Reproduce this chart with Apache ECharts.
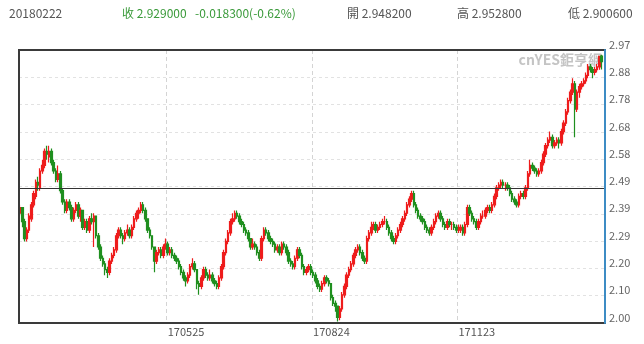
<!DOCTYPE html>
<html><head><meta charset="utf-8">
<script src="https://cdn.jsdelivr.net/npm/echarts@6/dist/echarts.min.js"></script>
<style>html,body{margin:0;padding:0;background:#fff}#c{width:644px;height:344px}</style>
</head><body><div id="c"></div>
<script>
// ---- data ----
const startDate = '2017-02-22';
const endDate = '2018-02-22';
const xTickLabels = ['170525', '170824', '171123'];
const yMin = 2.00, yMax = 2.97, yStep = 0.097;
const yTickLabels = ['2.00','2.10','2.20','2.29','2.39','2.49','2.58','2.68','2.78','2.88','2.97'];
const refLine = 2.485;
const headerDate = '20180222';
const headerClose = '收 2.929000';
const headerChange = '-0.018300(-0.62%)';
const headerOpen = '開 2.948200';
const headerHigh = '高 2.952800';
const headerLow = '低 2.900600';
const watermark = 'cnYES鉅亨網';

const opens = [
2.39,2.41,2.36,2.30,2.33,2.37,2.42,2.45,2.50,2.48,
2.54,2.56,2.61,2.59,2.61,2.57,2.54,2.51,2.53,2.47,
2.43,2.40,2.43,2.41,2.37,2.40,2.42,2.38,2.40,2.34,
2.36,2.33,2.37,2.36,2.38,2.31,2.27,2.23,2.21,2.19,
2.18,2.22,2.24,2.26,2.31,2.33,2.31,2.30,2.32,2.33,
2.31,2.34,2.37,2.39,2.40,2.42,2.40,2.37,2.33,2.31,
2.27,2.22,2.25,2.26,2.24,2.27,2.28,2.25,2.26,2.24,
2.23,2.22,2.20,2.18,2.16,2.15,2.17,2.20,2.21,2.19,
2.14,2.13,2.16,2.19,2.17,2.16,2.17,2.15,2.14,2.13,
2.16,2.20,2.25,2.29,2.32,2.36,2.37,2.39,2.38,2.36,
2.35,2.33,2.32,2.30,2.27,2.28,2.27,2.25,2.23,2.30,
2.33,2.32,2.30,2.29,2.28,2.26,2.27,2.25,2.28,2.27,
2.25,2.22,2.21,2.20,2.23,2.26,2.24,2.20,2.18,2.19,
2.20,2.18,2.17,2.15,2.13,2.12,2.14,2.16,2.15,2.14,
2.09,2.07,2.06,2.02,2.05,2.10,2.13,2.17,2.19,2.21,
2.24,2.26,2.27,2.25,2.23,2.22,2.30,2.32,2.34,2.35,
2.33,2.34,2.35,2.36,2.36,2.34,2.32,2.30,2.29,2.31,
2.33,2.35,2.37,2.39,2.42,2.44,2.46,2.42,2.40,2.38,
2.37,2.36,2.34,2.33,2.32,2.34,2.36,2.38,2.39,2.37,
2.35,2.34,2.36,2.35,2.35,2.34,2.33,2.33,2.34,2.32,
2.35,2.41,2.39,2.37,2.36,2.34,2.36,2.38,2.38,2.40,
2.41,2.40,2.42,2.45,2.48,2.49,2.50,2.49,2.49,2.48,
2.46,2.44,2.43,2.42,2.45,2.46,2.45,2.48,2.53,2.56,
2.55,2.54,2.53,2.54,2.57,2.60,2.63,2.65,2.66,2.63,
2.64,2.65,2.64,2.68,2.71,2.75,2.79,2.82,2.85,2.76,
2.82,2.84,2.85,2.86,2.88,2.91,2.90,2.89,2.90,2.91,
2.9482];
const closes = [
2.41,2.36,2.30,2.33,2.38,2.42,2.46,2.50,2.49,2.54,
2.56,2.61,2.60,2.61,2.57,2.54,2.51,2.53,2.47,2.43,
2.40,2.43,2.41,2.37,2.40,2.42,2.38,2.40,2.34,2.36,
2.33,2.37,2.36,2.38,2.31,2.27,2.23,2.21,2.19,2.18,
2.22,2.24,2.26,2.31,2.33,2.31,2.30,2.32,2.33,2.31,
2.34,2.37,2.39,2.40,2.42,2.40,2.37,2.33,2.31,2.27,
2.22,2.25,2.26,2.24,2.27,2.28,2.25,2.26,2.24,2.23,
2.22,2.20,2.18,2.16,2.15,2.17,2.20,2.21,2.19,2.14,
2.13,2.16,2.19,2.17,2.16,2.17,2.15,2.14,2.13,2.16,
2.20,2.25,2.29,2.32,2.36,2.37,2.39,2.38,2.36,2.35,
2.33,2.32,2.30,2.27,2.28,2.27,2.25,2.23,2.30,2.33,
2.32,2.30,2.29,2.28,2.26,2.27,2.25,2.28,2.27,2.25,
2.22,2.21,2.20,2.23,2.26,2.24,2.20,2.18,2.19,2.20,
2.18,2.17,2.15,2.13,2.12,2.14,2.16,2.15,2.14,2.09,
2.07,2.06,2.02,2.05,2.10,2.13,2.17,2.19,2.21,2.24,
2.26,2.27,2.25,2.23,2.22,2.30,2.32,2.34,2.35,2.33,
2.34,2.35,2.36,2.36,2.34,2.32,2.30,2.29,2.31,2.33,
2.35,2.37,2.39,2.42,2.44,2.46,2.42,2.40,2.38,2.37,
2.36,2.34,2.33,2.32,2.34,2.36,2.38,2.39,2.37,2.35,
2.34,2.36,2.35,2.35,2.34,2.33,2.33,2.34,2.32,2.35,
2.41,2.39,2.37,2.36,2.34,2.36,2.38,2.38,2.40,2.41,
2.40,2.42,2.45,2.48,2.49,2.50,2.49,2.49,2.48,2.46,
2.44,2.43,2.42,2.45,2.46,2.45,2.48,2.53,2.56,2.55,
2.54,2.53,2.54,2.57,2.60,2.63,2.65,2.66,2.63,2.64,
2.65,2.64,2.68,2.71,2.75,2.79,2.82,2.85,2.76,2.82,
2.84,2.85,2.86,2.88,2.91,2.90,2.89,2.90,2.91,2.9473,
2.929];
const lows = [
2.38,2.34,2.29,2.29,2.32,2.36,2.41,2.44,2.47,2.47,
2.53,2.55,2.58,2.57,2.56,2.53,2.50,2.50,2.46,2.42,
2.39,2.39,2.40,2.36,2.36,2.39,2.37,2.36,2.33,2.33,
2.32,2.32,2.35,2.27,2.30,2.26,2.22,2.20,2.17,2.16,
2.17,2.21,2.23,2.25,2.30,2.30,2.28,2.29,2.31,2.30,
2.30,2.33,2.36,2.37,2.39,2.39,2.36,2.32,2.30,2.26,
2.18,2.21,2.24,2.23,2.23,2.26,2.24,2.24,2.23,2.22,
2.21,2.19,2.17,2.15,2.13,2.14,2.16,2.19,2.18,2.12,
2.10,2.12,2.15,2.16,2.15,2.15,2.14,2.13,2.12,2.12,
2.15,2.19,2.24,2.28,2.31,2.35,2.36,2.37,2.35,2.34,
2.32,2.31,2.29,2.26,2.26,2.26,2.24,2.22,2.22,2.29,
2.31,2.29,2.28,2.27,2.25,2.25,2.24,2.24,2.26,2.24,
2.21,2.20,2.19,2.19,2.22,2.23,2.19,2.17,2.17,2.18,
2.17,2.16,2.14,2.12,2.11,2.11,2.13,2.14,2.13,2.08,
2.06,2.04,2.005,2.01,2.04,2.09,2.12,2.16,2.18,2.20,
2.23,2.25,2.24,2.22,2.21,2.21,2.29,2.31,2.33,2.32,
2.32,2.33,2.34,2.35,2.33,2.31,2.29,2.28,2.28,2.30,
2.32,2.34,2.36,2.38,2.41,2.43,2.41,2.39,2.37,2.36,
2.35,2.33,2.32,2.31,2.31,2.33,2.35,2.37,2.36,2.34,
2.33,2.33,2.34,2.33,2.33,2.32,2.32,2.32,2.31,2.31,
2.34,2.38,2.36,2.35,2.33,2.33,2.35,2.37,2.37,2.39,
2.39,2.39,2.41,2.44,2.47,2.48,2.48,2.47,2.47,2.45,
2.43,2.42,2.41,2.41,2.44,2.44,2.44,2.47,2.52,2.54,
2.53,2.52,2.52,2.53,2.56,2.59,2.62,2.64,2.62,2.62,
2.63,2.62,2.63,2.67,2.70,2.74,2.78,2.81,2.66,2.75,
2.80,2.83,2.84,2.85,2.87,2.89,2.87,2.88,2.89,2.90,
2.9006];
const highs = [
2.42,2.41,2.37,2.34,2.39,2.43,2.47,2.51,2.52,2.55,
2.58,2.62,2.63,2.63,2.62,2.58,2.55,2.56,2.54,2.48,
2.44,2.44,2.44,2.42,2.41,2.43,2.43,2.41,2.40,2.37,
2.37,2.38,2.39,2.39,2.38,2.32,2.28,2.24,2.22,2.20,
2.23,2.25,2.27,2.32,2.34,2.34,2.32,2.33,2.35,2.34,
2.35,2.38,2.40,2.41,2.43,2.43,2.41,2.37,2.34,2.31,
2.27,2.26,2.27,2.27,2.28,2.30,2.29,2.27,2.27,2.25,
2.24,2.23,2.21,2.19,2.17,2.18,2.21,2.23,2.22,2.19,
2.15,2.17,2.20,2.20,2.18,2.19,2.18,2.16,2.15,2.17,
2.21,2.26,2.30,2.33,2.37,2.39,2.40,2.40,2.39,2.37,
2.36,2.34,2.33,2.30,2.30,2.29,2.28,2.26,2.31,2.34,
2.34,2.33,2.31,2.30,2.29,2.28,2.28,2.29,2.29,2.28,
2.26,2.23,2.22,2.24,2.27,2.27,2.25,2.21,2.20,2.21,
2.21,2.19,2.18,2.16,2.14,2.15,2.17,2.17,2.16,2.14,
2.10,2.08,2.06,2.06,2.11,2.14,2.18,2.20,2.22,2.25,
2.27,2.28,2.28,2.26,2.24,2.31,2.33,2.36,2.36,2.36,
2.35,2.36,2.37,2.38,2.37,2.35,2.33,2.31,2.32,2.34,
2.36,2.38,2.40,2.43,2.45,2.47,2.47,2.43,2.41,2.39,
2.38,2.37,2.35,2.34,2.35,2.37,2.39,2.40,2.40,2.38,
2.36,2.37,2.37,2.36,2.36,2.35,2.35,2.35,2.35,2.36,
2.42,2.42,2.40,2.38,2.37,2.37,2.39,2.40,2.41,2.42,
2.42,2.43,2.46,2.49,2.50,2.51,2.51,2.50,2.50,2.49,
2.47,2.45,2.44,2.46,2.47,2.47,2.49,2.54,2.58,2.57,
2.56,2.55,2.55,2.58,2.61,2.64,2.66,2.68,2.67,2.65,
2.66,2.66,2.69,2.72,2.76,2.80,2.83,2.87,2.86,2.83,
2.85,2.86,2.87,2.89,2.92,2.92,2.91,2.91,2.92,2.95,
2.9528];

// ---- categories: weekday trading dates as YYMMDD ----
function tradingDays(s, e) {
  const out = [];
  const d = new Date(s + 'T00:00:00Z');
  const end = new Date(e + 'T00:00:00Z');
  while (d <= end) {
    const w = d.getUTCDay();
    if (w > 0 && w < 6) {
      out.push(String(d.getUTCFullYear()).slice(2) + String(d.getUTCMonth() + 1).padStart(2, '0') + String(d.getUTCDate()).padStart(2, '0'));
    }
    d.setUTCDate(d.getUTCDate() + 1);
  }
  return out;
}
const dates = tradingDays(startDate, endDate);
const candles = dates.map((_, i) => [opens[i], closes[i], lows[i], highs[i]]);

const FONT = '"Noto Sans CJK TC", "Noto Sans", sans-serif';
const UP = '#ee1c1c', DOWN = '#1f8f1f';
const chart = echarts.init(document.getElementById('c'), null, { renderer: 'canvas' });
const showTick = (i, v) => xTickLabels.indexOf(v) >= 0;

chart.setOption({
  animation: false,
  backgroundColor: '#fff',
  grid: { left: 19, right: 39, top: 50, bottom: 21, show: true, z: 10, borderColor: '#3a3a3a', borderWidth: 2, backgroundColor: 'transparent' },
  xAxis: {
    type: 'category', data: dates, boundaryGap: true,
    axisLine: { show: false },
    axisTick: { show: false },
    axisLabel: { interval: showTick, align: 'left', color: '#555', fontSize: 11, fontFamily: FONT, margin: 3 },
    splitLine: { show: true, interval: showTick, lineStyle: { color: '#d4d4d4', type: [4, 3], width: 1 } }
  },
  yAxis: [{
    type: 'value', position: 'right', min: yMin, max: yMax, interval: yStep,
    axisLine: { show: false },
    axisTick: { show: false },
    axisLabel: {
      color: '#666', fontSize: 11, fontFamily: FONT, margin: 4, verticalAlign: 'bottom',
      formatter: (v) => yTickLabels[Math.round((v - yMin) / yStep)]
    },
    splitLine: { show: true, lineStyle: { color: '#e2e2e2', type: [3, 3], width: 1 } }
  }, {
    type: 'value', position: 'right', min: yMin, max: yMax, interval: yStep, z: 11,
    axisLine: { show: true, lineStyle: { color: '#3d8cc4', width: 2 } },
    axisTick: { show: false }, axisLabel: { show: false }, splitLine: { show: false }
  }],
  graphic: [
    { type: 'text', left: 9, top: 7, style: { text: headerDate, fill: '#555', fontSize: 12, fontFamily: FONT } },
    { type: 'text', left: 122, top: 7, style: { text: headerClose, fill: '#3a9a3a', fontSize: 12, fontFamily: FONT } },
    { type: 'text', left: 195, top: 7, style: { text: headerChange, fill: '#3a9a3a', fontSize: 12, fontFamily: FONT } },
    { type: 'text', left: 347, top: 7, style: { text: headerOpen, fill: '#555', fontSize: 12, fontFamily: FONT } },
    { type: 'text', left: 457, top: 7, style: { text: headerHigh, fill: '#555', fontSize: 12, fontFamily: FONT } },
    { type: 'text', left: 568, top: 7, style: { text: headerLow, fill: '#555', fontSize: 12, fontFamily: FONT } },
    { type: 'text', right: 42, top: 53, z: 1, style: { text: watermark, fill: '#c4c4c4', fontSize: 14, fontWeight: 'bold', fontFamily: FONT } }
  ],
  series: [{
    type: 'candlestick',
    data: candles,
    barWidth: 2,
    itemStyle: { color: UP, color0: DOWN, borderColor: UP, borderColor0: DOWN, borderWidth: 1.2 },
    markLine: {
      silent: true, symbol: 'none', label: { show: false },
      lineStyle: { color: '#333', width: 1, type: 'solid' },
      data: [{ yAxis: refLine }]
    }
  }]
});
</script>
</body></html>
